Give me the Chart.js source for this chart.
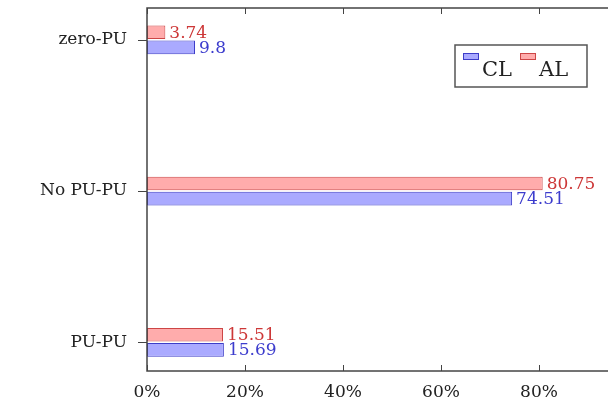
<!DOCTYPE html>
<html>
<head>
<meta charset="utf-8">
<script src="https://cdn.jsdelivr.net/npm/chart.js@4.4.0/dist/chart.umd.min.js"></script>
<style>
  html, body { margin: 0; padding: 0; background: #fff; overflow: hidden; }
  #wrap { width: 700px; height: 403px; position: relative; }
</style>
</head>
<body>
<div id="wrap"><canvas id="barChart"></canvas></div>
<script>
// categories from top to bottom
var categories = ['zero-PU', 'No PU-PU', 'PU-PU'];
var clValues = [9.8, 74.51, 15.69];
var alValues = [3.74, 80.75, 15.51];
var xTicks = [0, 20, 40, 60, 80, 100];

var FONT = '"DejaVu Serif", "Liberation Serif", serif';

function toPoints(values) {
    return values.map(function (v, i) { return { x: v, y: i }; });
}

// frame, inward ticks, value labels and legend (pgfplots look)
var framePlugin = {
    id: 'framePlugin',
    afterDatasetsDraw: function (chart) {
        var ctx = chart.ctx;
        var area = chart.chartArea;
        var xs = chart.scales.x;
        var ys = chart.scales.y;
        ctx.save();
        ctx.strokeStyle = '#444';
        ctx.lineWidth = 1.5;
        ctx.strokeRect(area.left, area.top, area.right - area.left, area.bottom - area.top);

        // x ticks inside, top and bottom
        ctx.lineWidth = 1;
        xTicks.forEach(function (t) {
            var px = Math.round(xs.getPixelForValue(t)) + 0.5;
            ctx.beginPath();
            ctx.moveTo(px, area.bottom);
            ctx.lineTo(px, area.bottom - 6);
            ctx.moveTo(px, area.top);
            ctx.lineTo(px, area.top + 6);
            ctx.stroke();
        });
        // y ticks outside on the left
        categories.forEach(function (c, i) {
            var py = Math.round(ys.getPixelForValue(i)) + 0.5;
            ctx.beginPath();
            ctx.moveTo(area.left - 9, py);
            ctx.lineTo(area.left, py);
            ctx.stroke();
        });

        // value labels at the bar ends
        ctx.font = '17px ' + FONT;
        ctx.textBaseline = 'middle';
        ctx.textAlign = 'left';
        chart.data.datasets.forEach(function (ds, di) {
            var meta = chart.getDatasetMeta(di);
            meta.data.forEach(function (bar, i) {
                ctx.fillStyle = ds.textColor;
                ctx.fillText(String(ds.data[i].x), bar.x + 4, bar.y + 1);
            });
        });

        // legend box
        var lx = 455, ly = 45, lw = 132, lh = 42;
        ctx.fillStyle = '#fff';
        ctx.fillRect(lx, ly, lw, lh);
        ctx.strokeStyle = '#555';
        ctx.lineWidth = 1.5;
        ctx.strokeRect(lx, ly, lw, lh);
        var order = [1, 0]; // CL first, then AL
        var ix = lx + 8;
        ctx.textBaseline = 'alphabetic';
        order.forEach(function (di) {
            var ds = chart.data.datasets[di];
            ctx.fillStyle = ds.backgroundColor;
            ctx.strokeStyle = ds.borderColor;
            ctx.lineWidth = 1;
            ctx.fillRect(ix, ly + 8, 15, 6);
            ctx.strokeRect(ix + 0.5, ly + 8.5, 15, 6);
            ctx.fillStyle = '#222';
            ctx.font = '21px ' + FONT;
            ctx.fillText(ds.label, ix + 19, ly + 31);
            ix += 19 + ctx.measureText(ds.label).width + 8;
        });
        ctx.restore();
    }
};

var ctx = document.getElementById('barChart').getContext('2d');
var barChart = new Chart(ctx, {
    type: 'bar',
    data: {
        datasets: [{
            label: 'AL',
            data: toPoints(alValues),
            backgroundColor: 'rgb(255,172,172)',
            borderColor: 'rgb(205,70,70)',
            textColor: 'rgb(205,55,55)',
            borderWidth: 1,
            borderSkipped: false,
            categoryPercentage: 0.2,
            barPercentage: 0.9
        }, {
            label: 'CL',
            data: toPoints(clValues),
            backgroundColor: 'rgb(170,170,255)',
            borderColor: 'rgb(60,60,200)',
            textColor: 'rgb(60,60,205)',
            borderWidth: 1,
            borderSkipped: false,
            categoryPercentage: 0.2,
            barPercentage: 0.9
        }]
    },
    options: {
        indexAxis: 'y',
        responsive: true,
        maintainAspectRatio: false,
        animation: false,
        layout: { padding: { top: 8, right: 63, left: 0, bottom: 0 } },
        plugins: {
            legend: { display: false },
            tooltip: { enabled: false }
        },
        scales: {
            x: {
                type: 'linear',
                min: 0,
                max: 100,
                offset: false,
                grid: { display: false },
                border: { display: false },
                afterBuildTicks: function (scale) {
                    scale.ticks = xTicks.map(function (v) { return { value: v }; });
                },
                afterFit: function (scale) {
                    scale.height = 32;
                    scale.paddingLeft = 0;
                    scale.paddingRight = 0;
                },
                ticks: {
                    padding: 3,
                    color: '#222',
                    font: { family: FONT, size: 17 },
                    callback: function (v) { return v + '%'; }
                }
            },
            y: {
                type: 'linear',
                reverse: true,
                offset: false,
                min: -0.21,
                max: 2.19,
                grid: { display: false, offset: false },
                border: { display: false },
                afterBuildTicks: function (scale) {
                    scale.ticks = categories.map(function (c, i) { return { value: i }; });
                },
                afterFit: function (scale) {
                    scale.width = 147;
                    scale.paddingTop = 0;
                    scale.paddingBottom = 0;
                },
                ticks: {
                    padding: 12,
                    color: '#222',
                    font: { family: FONT, size: 17 },
                    callback: function (v) { return categories[v]; }
                }
            }
        }
    },
    plugins: [framePlugin]
});
</script>
</body>
</html>
